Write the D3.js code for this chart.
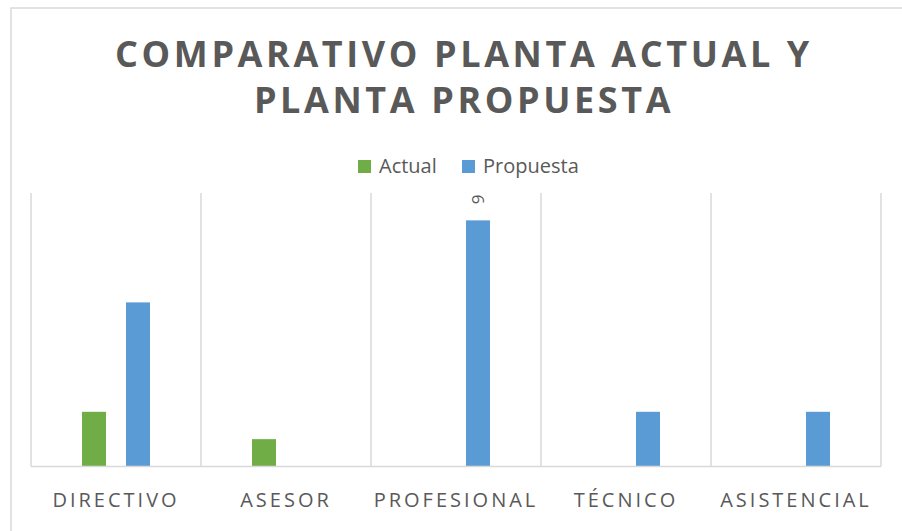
<!DOCTYPE html>
<html>
<head>
<meta charset="utf-8">
<script src="https://cdn.jsdelivr.net/npm/d3@7"></script>
<style>
  html, body { margin: 0; padding: 0; background: #fff; }
  svg { display: block; font-family: "Open Sans", sans-serif; }
</style>
</head>
<body>
<div id="chart"></div>
<script>
// data
const categories = ["DIRECTIVO", "ASESOR", "PROFESIONAL", "TÉCNICO", "ASISTENCIAL"];
const seriesNames = ["Actual", "Propuesta"];
const actual = [2, 1, 0, 0, 0];
const propuesta = [6, 0, 9, 2, 2];
const titleLines = ["COMPARATIVO PLANTA ACTUAL Y", "PLANTA PROPUESTA"];
const colors = { Actual: "#70AD47", Propuesta: "#5B9BD5" };

const width = 902, height = 531;
const plot = { left: 31, right: 881, top: 193, bottom: 466.5 };

const svg = d3
  .select("#chart")
  .append("svg")
  .attr("width", width)
  .attr("height", height);

// chart area border (cut by the page edge on the right and bottom)
svg
  .append("rect")
  .attr("x", 11)
  .attr("y", 8)
  .attr("width", 1000)
  .attr("height", 1000)
  .attr("fill", "none")
  .attr("stroke", "#d9d9d9")
  .attr("stroke-width", 1.5);

// title
svg
  .append("g")
  .selectAll("text")
  .data(titleLines)
  .join("text")
  .attr("x", 464)
  .attr("y", (d, i) => 67 + i * 46)
  .attr("text-anchor", "middle")
  .attr("fill", "#595959")
  .style("font-size", "36px")
  .style("font-weight", "bold")
  .style("letter-spacing", "3.6px")
  .text((d) => d);

// legend
const legend = svg.append("g");
const legendX = [358, 462];
seriesNames.forEach((name, i) => {
  legend
    .append("rect")
    .attr("x", legendX[i])
    .attr("y", 160)
    .attr("width", 13)
    .attr("height", 13)
    .attr("fill", colors[name]);
  legend
    .append("text")
    .attr("x", legendX[i] + 21)
    .attr("y", 173)
    .attr("fill", "#595959")
    .style("font-size", "20px")
    .text(name);
});

// scales
const x = d3
  .scaleBand()
  .domain(categories)
  .range([plot.left, plot.right])
  .padding(0);

const xInner = d3
  .scaleBand()
  .domain(seriesNames)
  .range([51, 119])
  .paddingInner(20 / 44)
  .paddingOuter(0);

const y = d3.scaleLinear().domain([0, 10]).range([plot.bottom, plot.top]);

// vertical gridlines between categories
const edges = categories.map((c) => x(c)).concat([plot.right]);
svg
  .append("g")
  .selectAll("line")
  .data(edges)
  .join("line")
  .attr("x1", (d) => d)
  .attr("x2", (d) => d)
  .attr("y1", plot.top)
  .attr("y2", plot.bottom)
  .attr("stroke", "#d9d9d9")
  .attr("stroke-width", 1.5);

// bars
const rows = [];
categories.forEach((c, i) => {
  rows.push({ cat: c, series: "Actual", value: actual[i] });
  rows.push({ cat: c, series: "Propuesta", value: propuesta[i] });
});

svg
  .append("g")
  .selectAll("rect")
  .data(rows.filter((d) => d.value > 0))
  .join("rect")
  .attr("x", (d) => x(d.cat) + xInner(d.series))
  .attr("width", xInner.bandwidth())
  .attr("y", (d) => y(d.value))
  .attr("height", (d) => y(0) - y(d.value))
  .attr("fill", (d) => colors[d.series]);

// baseline
svg
  .append("line")
  .attr("x1", plot.left)
  .attr("x2", plot.right)
  .attr("y1", y(0))
  .attr("y2", y(0))
  .attr("stroke", "#d9d9d9")
  .attr("stroke-width", 1.5);

// rotated data label on the tallest bar
const maxRow = rows.reduce((a, b) => (b.value > a.value ? b : a));
const lx = x(maxRow.cat) + xInner(maxRow.series) + xInner.bandwidth() / 2;
const ly = y(maxRow.value) - 16;
svg
  .append("text")
  .attr("transform", `translate(${lx},${ly}) rotate(-90)`)
  .attr("dy", "0.35em")
  .attr("fill", "#595959")
  .style("font-size", "17px")
  .text(maxRow.value);

// category labels
svg
  .append("g")
  .selectAll("text")
  .data(categories)
  .join("text")
  .attr("x", (d) => x(d) + x.bandwidth() / 2)
  .attr("y", 507)
  .attr("text-anchor", "middle")
  .attr("fill", "#595959")
  .style("font-size", "20px")
  .style("letter-spacing", "3px")
  .text((d) => d);
</script>
</body>
</html>
